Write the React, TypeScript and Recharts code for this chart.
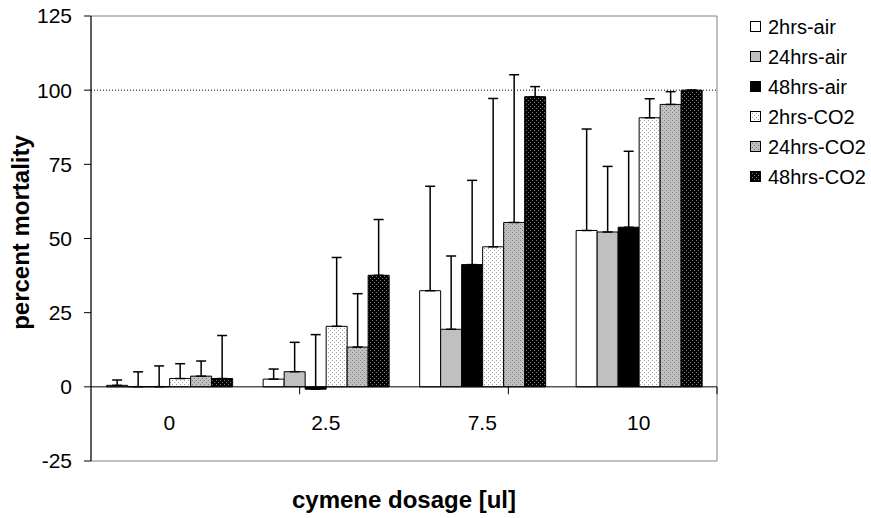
import React from 'react';
import { BarChart, Bar, XAxis, YAxis, ErrorBar, ReferenceLine, ReferenceArea, Legend } from 'recharts';

const categories = ['0', '2.5', '7.5', '10'];
const seriesNames = ['2hrs-air', '24hrs-air', '48hrs-air', '2hrs-CO2', '24hrs-CO2', '48hrs-CO2'];

const air2h = [0.5, 2.6, 32.4, 52.7];
const air24h = [0.05, 5.1, 19.4, 52.2];
const air48h = [0.05, -0.8, 41.2, 53.8];
const co2_2h = [2.8, 20.4, 47.2, 90.7];
const co2_24h = [3.6, 13.4, 55.4, 95.2];
const co2_48h = [2.8, 37.6, 97.8, 100];

const air2hErr = [1.8, 3.4, 35.2, 34.2];
const air24hErr = [5, 9.9, 24.7, 22.1];
const air48hErr = [7, 18.4, 28.4, 25.6];
const co2_2hErr = [5, 23.2, 50, 6.4];
const co2_24hErr = [5.1, 18, 49.8, 4.3];
const co2_48hErr = [14.5, 18.8, 3.4, 0];

const yTicks = [-25, 0, 25, 50, 75, 100, 125];
const categoryBoundaries = [1, 2, 3];

const seriesValues = [air2h, air24h, air48h, co2_2h, co2_24h, co2_48h];
const seriesErrors = [air2hErr, air24hErr, air48hErr, co2_2hErr, co2_24hErr, co2_48hErr];
const fills = ['#ffffff', '#c0c0c0', '#000000', 'url(#pDotsWhite)', 'url(#pDotsGray)', 'url(#pDotsBlack)'];

const data = categories.map((c, i) => {
  const row: any = { cat: c };
  seriesValues.forEach((vals, s) => {
    row['s' + s] = vals[i];
    row['e' + s] = [0, seriesErrors[s][i]];
  });
  return row;
});

const FONT = '"Liberation Sans", Arial, sans-serif';

const CategoryTick = (props: any) => {
  const { x, y, payload } = props;
  return (
    <text x={x} y={y - 31} textAnchor="middle" fontFamily={FONT} fontSize={21} fill="#000">
      {payload.value}
    </text>
  );
};

const XTitle = (props: any) => {
  const vb = props.viewBox;
  return (
    <text x={vb.x + vb.width / 2} y={vb.y + 47} textAnchor="middle" fontFamily={FONT} fontSize={24} fontWeight="bold" fill="#000">
      cymene dosage [ul]
    </text>
  );
};

const YTitle = (props: any) => {
  const vb = props.viewBox;
  const cx = vb.x + 29;
  const cy = vb.y + vb.height / 2 - 6;
  return (
    <text x={cx} y={cy} transform={`rotate(-90, ${cx}, ${cy})`} textAnchor="middle" fontFamily={FONT} fontSize={24} fontWeight="bold" fill="#000">
      percent mortality
    </text>
  );
};

const LegendContent = () => (
  <div style={{ fontFamily: FONT, fontSize: 20, color: '#000' }}>
    {seriesNames.map((n, i) => (
      <div key={n} style={{ display: 'flex', alignItems: 'center', height: 30 }}>
        <svg width={12} height={12} style={{ marginRight: 6, display: 'block' }}>
          <rect x={0.5} y={0.5} width={10} height={10} fill={fills[i]} stroke="#000" />
        </svg>
        <span>{n}</span>
      </div>
    ))}
  </div>
);

export default function App() {
  return (
    <div style={{ position: 'absolute', left: 0, top: 0, background: '#fff' }}>
      <BarChart
        width={871}
        height={518}
        data={data}
        margin={{ top: 16, right: 34, bottom: 0, left: 0 }}
        barCategoryGap="10%"
        barGap={0}
      >
        <defs>
          <pattern id="pDotsWhite" width="4" height="4" patternUnits="userSpaceOnUse">
            <rect width="4" height="4" fill="#ffffff" />
            <rect x="0" y="0" width="1" height="1" fill="#a0a0a0" />
            <rect x="2" y="2" width="1" height="1" fill="#a0a0a0" />
          </pattern>
          <pattern id="pDotsGray" width="4" height="4" patternUnits="userSpaceOnUse">
            <rect width="4" height="4" fill="#c0c0c0" />
            <rect x="0" y="0" width="1" height="1" fill="#808080" />
            <rect x="2" y="2" width="1" height="1" fill="#808080" />
          </pattern>
          <pattern id="pDotsBlack" width="4" height="4" patternUnits="userSpaceOnUse">
            <rect width="4" height="4" fill="#000000" />
            <rect x="0" y="0" width="1" height="1" fill="#808080" />
            <rect x="2" y="2" width="1" height="1" fill="#808080" />
          </pattern>
        </defs>
        <XAxis
          dataKey="cat"
          height={57}
          axisLine={false}
          tickLine={false}
          tickSize={0}
          tickMargin={0}
          interval={0}
          tick={<CategoryTick />}
          label={{ content: <XTitle /> }}
        />
        <XAxis xAxisId="num" type="number" domain={[0, 4]} hide />
        <YAxis
          width={91}
          domain={[-25, 125]}
          ticks={yTicks}
          interval={0}
          allowDataOverflow
          tickSize={7}
          tickMargin={12}
          axisLine={{ stroke: '#000', strokeWidth: 1 }}
          tickLine={{ stroke: '#000', strokeWidth: 1 }}
          tick={{ fontFamily: FONT, fontSize: 21, fill: '#000' }}
          label={{ content: <YTitle /> }}
        />
        <ReferenceArea y1={-25} y2={125} fill="none" fillOpacity={0} stroke="#808080" strokeWidth={1} ifOverflow="visible" />
        <ReferenceLine y={100} stroke="#000" strokeWidth={1} strokeDasharray="1 2" />
        <ReferenceLine y={0} stroke="#000" strokeWidth={1} />
        {categoryBoundaries.map((b) => (
          <ReferenceLine
            key={b}
            xAxisId="num"
            segment={[{ x: b, y: 0 }, { x: b, y: -2.5 }]}
            stroke="#000"
            strokeWidth={1}
          />
        ))}
        {seriesNames.map((n, s) => (
          <Bar key={n} dataKey={'s' + s} name={n} fill={fills[s]} stroke="#000" strokeWidth={1} isAnimationActive={false}>
            <ErrorBar dataKey={'e' + s} width={5} stroke="#000" strokeWidth={1.5} direction="y" />
          </Bar>
        ))}
        <Legend
          layout="vertical"
          align="right"
          verticalAlign="top"
          content={<LegendContent />}
          wrapperStyle={{ left: 750, top: 12, width: 120 }}
        />
      </BarChart>
    </div>
  );
}
